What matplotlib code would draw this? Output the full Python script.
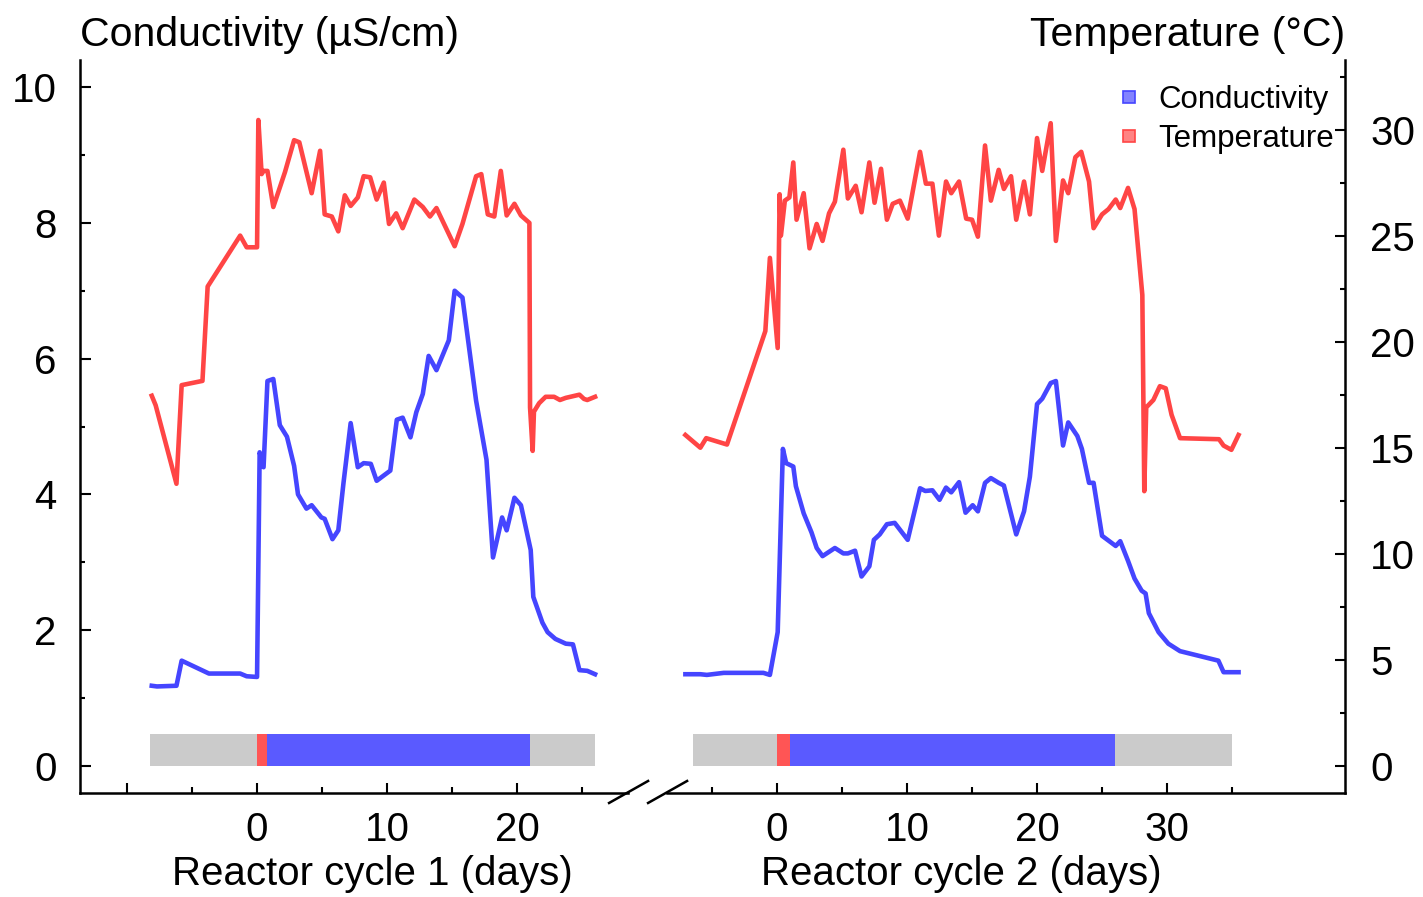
import matplotlib
matplotlib.use('Agg')
import matplotlib.pyplot as plt
from matplotlib.lines import Line2D
from matplotlib.ticker import FixedLocator, MultipleLocator

plt.rcParams['font.family'] = ['Liberation Sans', 'DejaVu Sans']

# reactor cycle 1
c1_cond_days = [-8.1, -7.7, -6.2, -5.8, -3.7, -1.3, -0.8, 0.0, 0.2, 0.5, 0.8, 1.25, 1.75, 2.3,
                2.85, 3.15, 3.8, 4.2, 4.95, 5.2, 5.8, 6.25, 6.65, 7.2, 7.75, 8.2, 8.75, 9.2,
                10.25, 10.75, 11.2, 11.8, 12.25, 12.75, 13.2, 13.8, 14.75, 15.2, 15.8, 16.85,
                17.65, 18.15, 18.85, 19.2, 19.8, 20.3, 21.05, 21.25, 21.95, 22.35, 22.95, 23.75,
                24.3, 24.8, 25.4, 26.0]
c1_cond = [1.18, 1.17, 1.18, 1.55, 1.36, 1.36, 1.32, 1.31, 4.62, 4.40, 5.67, 5.70, 5.02, 4.85,
           4.42, 4.0, 3.79, 3.84, 3.66, 3.64, 3.34, 3.47, 4.17, 5.05, 4.40, 4.46, 4.45, 4.2,
           4.35, 5.1, 5.13, 4.84, 5.21, 5.48, 6.04, 5.83, 6.27, 7.0, 6.9, 5.38,
           4.51, 3.07, 3.66, 3.47, 3.95, 3.84, 3.18, 2.49, 2.11, 1.97, 1.87, 1.80,
           1.79, 1.41, 1.40, 1.35]
c1_temp_days = [-8.1, -7.8, -6.2, -5.8, -4.2, -3.8, -1.3, -0.8, 0.0, 0.1, 0.35, 0.5, 0.8, 1.25,
                2.15, 2.85, 3.25, 4.2, 4.85, 5.2, 5.75, 6.25, 6.75, 7.2, 7.75, 8.2, 8.7, 9.2,
                9.75, 10.15, 10.7, 11.2, 12.1, 12.75, 13.3, 13.8, 15.2, 15.8, 16.85, 17.25,
                17.75, 18.25, 18.75, 19.2, 19.8, 20.3, 20.95, 21.0, 21.2, 21.3, 21.7, 22.2,
                22.85, 23.3, 23.75, 24.8, 25.15, 25.4, 26.0]
c1_temp = [17.45, 17.0, 13.3, 17.95, 18.15, 22.6, 25.0, 24.45, 24.45, 30.45, 27.9, 28.05, 28.05, 26.35,
           28.0, 29.5, 29.4, 27.0, 29.0, 26.0, 25.9, 25.2, 26.9, 26.4, 26.8, 27.8, 27.75, 26.7,
           27.5, 25.55, 26.05, 25.35, 26.7, 26.35, 25.9, 26.3, 24.5, 25.55, 27.8, 27.9,
           26.0, 25.9, 28.05, 25.95, 26.5, 25.95, 25.6, 16.9, 14.85, 16.7, 17.1, 17.4,
           17.4, 17.25, 17.35, 17.5, 17.3, 17.25, 17.4]

# reactor cycle 2
c2_cond_days = [-7.05, -5.9, -5.4, -4.1, -1.05, -0.55, 0.05, 0.45, 0.7, 1.25, 1.45, 2.05, 2.65,
                3.05, 3.5, 4.45, 5.1, 5.45, 6.0, 6.5, 7.1, 7.45, 7.9, 8.45, 9.05, 10.05, 11.0,
                11.4, 11.95, 12.5, 13.0, 13.4, 14.0, 14.5, 15.05, 15.45, 16.0, 16.45, 17.05,
                17.45, 18.4, 19.0, 19.45, 20.0, 20.4, 21.05, 21.45, 22.0, 22.4, 23.1, 23.45,
                24.0, 24.35, 25.0, 26.05, 26.4, 27.0, 27.5, 28.05, 28.35, 28.6, 29.35, 30.1,
                31.0, 33.95, 34.35, 35.5]
c2_cond = [1.35, 1.35, 1.34, 1.37, 1.37, 1.34, 1.97, 4.67, 4.46, 4.41, 4.12, 3.72, 3.44,
           3.21, 3.09, 3.21, 3.13, 3.13, 3.17, 2.79, 2.94, 3.33, 3.41, 3.56, 3.58, 3.33, 4.09,
           4.05, 4.06, 3.92, 4.1, 4.03, 4.18, 3.73, 3.84, 3.75, 4.17, 4.24, 4.17,
           4.13, 3.41, 3.75, 4.26, 5.33, 5.41, 5.64, 5.67, 4.72, 5.06, 4.86, 4.67,
           4.17, 4.17, 3.39, 3.24, 3.31, 3.02, 2.76, 2.58, 2.54, 2.25, 1.97, 1.80,
           1.69, 1.55, 1.38, 1.38]
c2_temp_days = [-7.05, -5.9, -5.45, -3.85, -0.9, -0.55, 0.05, 0.2, 0.3, 0.6, 0.95, 1.25, 1.5,
                2.05, 2.5, 3.05, 3.5, 4.0, 4.45, 5.1, 5.45, 6.05, 6.5, 7.1, 7.5, 8.0, 8.45, 8.9,
                9.45, 10.05, 11.0, 11.45, 11.95, 12.45, 13.0, 13.4, 14.0, 14.55, 15.0, 15.45,
                16.0, 16.45, 17.05, 17.45, 18.0, 18.4, 19.0, 19.45, 20.0, 20.4, 21.05, 21.45,
                22.0, 22.4, 22.95, 23.4, 24.0, 24.35, 25.0, 25.5, 26.05, 26.4, 27.0, 27.5,
                28.1, 28.25, 28.4, 28.95, 29.45, 29.9, 30.35, 31.0, 34.0, 34.35, 34.95, 35.5]
c2_temp = [15.6, 15.0, 15.45, 15.15, 20.5, 23.95, 19.7, 26.95, 25.0, 26.65, 26.8, 28.45, 25.75,
           27.0, 24.4, 25.55, 24.75, 26.05, 26.6, 29.05, 26.75, 27.35, 26.1, 28.45, 26.55, 28.15, 25.75, 26.5,
           26.65, 25.8, 28.95, 27.45, 27.45, 25.0, 27.55, 27.0, 27.55, 25.8, 25.75, 24.95,
           29.25, 26.65, 28.1, 27.2, 27.8, 25.75, 27.55, 26.0, 29.6, 28.05, 30.3, 24.75,
           27.6, 27.0, 28.7, 28.95, 27.55, 25.35, 26.0, 26.25, 26.7, 26.3, 27.25, 26.25,
           22.2, 12.95, 16.9, 17.25, 17.9, 17.8, 16.55, 15.45, 15.4, 15.1, 14.9, 15.6]

# phase bars: (start day, end day) per cycle
c1_span = (-8.2, 26.0)
c1_fill = (0.0, 0.8)
c1_run = (0.8, 21.0)
c2_span = (-6.5, 35.0)
c2_fill = (0.0, 1.0)
c2_run = (1.0, 26.0)

SHIFT = 40          # cycle 2 is drawn to the right of cycle 1 on one axis
T_SCALE = 3.2       # degC per uS/cm on the twin axis
BAR_H = 0.47

RED = '#ff4545'
BLUE = '#4545ff'

fig = plt.figure(figsize=(14.23, 8.97), dpi=100)
ax = fig.add_axes([80 / 1423, 1 - 793 / 897, 1265 / 1423, 733 / 897])
ax2 = ax.twinx()

c2_cd = [d + SHIFT for d in c2_cond_days]
c2_td = [d + SHIFT for d in c2_temp_days]

ax.plot(c1_cond_days, c1_cond, color=BLUE, lw=3.3)
ax.plot(c2_cd, c2_cond, color=BLUE, lw=3.3)
ax2.plot(c1_temp_days, c1_temp, color=RED, lw=3.3)
ax2.plot(c2_td, c2_temp, color=RED, lw=3.3)

for span, fill, run, off in [(c1_span, c1_fill, c1_run, 0), (c2_span, c2_fill, c2_run, SHIFT)]:
    ax.broken_barh([(span[0] + off, span[1] - span[0])], (0, BAR_H), facecolor='#cbcbcb')
    ax.broken_barh([(fill[0] + off, fill[1] - fill[0])], (0, BAR_H), facecolor='#ff5555')
    ax.broken_barh([(run[0] + off, run[1] - run[0])], (0, BAR_H), facecolor='#5a5aff')

xmin, xmax = -13.62, 83.69
ax.set_xlim(xmin, xmax)
ax.set_ylim(-0.4, 10.4)
ax2.set_ylim(-0.4 * T_SCALE, 10.4 * T_SCALE)

# x ticks for both cycles
major = [-10, 0, 10, 20, SHIFT, SHIFT + 10, SHIFT + 20, SHIFT + 30]
labels = ['', '0', '10', '20', '0', '10', '20', '30']
minor = [-5, 5, 15, 25, SHIFT - 5, SHIFT + 5, SHIFT + 15, SHIFT + 25, SHIFT + 35]
ax.xaxis.set_major_locator(FixedLocator(major))
ax.set_xticklabels(labels)
ax.xaxis.set_minor_locator(FixedLocator(minor))

ax.yaxis.set_major_locator(MultipleLocator(2))
ax.yaxis.set_minor_locator(MultipleLocator(1))
ax2.yaxis.set_major_locator(MultipleLocator(5))
ax2.yaxis.set_minor_locator(MultipleLocator(2.5))

ax.tick_params(axis='x', which='major', direction='in', length=7.5, width=1.5, pad=13, labelsize=29)
ax.tick_params(axis='x', which='minor', direction='in', length=4, width=1.5)
ax.tick_params(axis='y', which='major', direction='in', length=8, width=1.5, pad=17, labelsize=29)
ax.tick_params(axis='y', which='minor', direction='in', length=3.5, width=1.5)
ax2.tick_params(axis='y', which='major', direction='in', length=7, width=1.5, pad=18, labelsize=29)
ax2.tick_params(axis='y', which='minor', direction='in', length=3.5, width=1.5)

for s in ['top', 'bottom', 'right']:
    ax.spines[s].set_visible(False)
for s in ['top', 'bottom', 'left']:
    ax2.spines[s].set_visible(False)
ax.spines['left'].set_linewidth(1.8)
ax2.spines['right'].set_linewidth(1.8)

# broken bottom axis with slash marks
xt = ax.get_xaxis_transform()
ax.plot([xmin, 28.55], [0, 0], color='k', lw=1.8, transform=xt, clip_on=False)
ax.plot([31.55, xmax], [0, 0], color='k', lw=1.8, transform=xt, clip_on=False)
for x0 in [27.08, 30.08]:
    ax.plot([x0, x0 + 3.0], [-0.0136, 0.0164], color='k', lw=1.8, transform=xt, clip_on=False)

ax.text(8.88, -0.1255, 'Reactor cycle 1 (days)', transform=xt, ha='center', va='baseline', fontsize=29)
ax.text(54.15, -0.1255, 'Reactor cycle 2 (days)', transform=xt, ha='center', va='baseline', fontsize=29)

fig.text(80 / 1423, 1 - 46 / 897, 'Conductivity (µS/cm)', ha='left', va='baseline', fontsize=29.5)
fig.text(1345 / 1423, 1 - 46 / 897, 'Temperature (°C)', ha='right', va='baseline', fontsize=29.5)

handles = [
    Line2D([], [], ls='', marker='s', markersize=8.5, markerfacecolor=(0.35, 0.35, 1, 0.75),
           markeredgecolor=BLUE, markeredgewidth=1.2),
    Line2D([], [], ls='', marker='s', markersize=8.5, markerfacecolor=(1, 0.35, 0.35, 0.75),
           markeredgecolor=RED, markeredgewidth=1.2),
]
ax2.legend(handles, ['Conductivity', 'Temperature'], loc='upper right',
           bbox_to_anchor=(1334 / 1423, 1 - 85 / 897), bbox_transform=fig.transFigure,
           frameon=False, fontsize=22.5, handlelength=0.7, handletextpad=0.6,
           labelspacing=0.3, borderpad=0, borderaxespad=0)

fig.savefig('out.png', dpi=100, facecolor='white')
